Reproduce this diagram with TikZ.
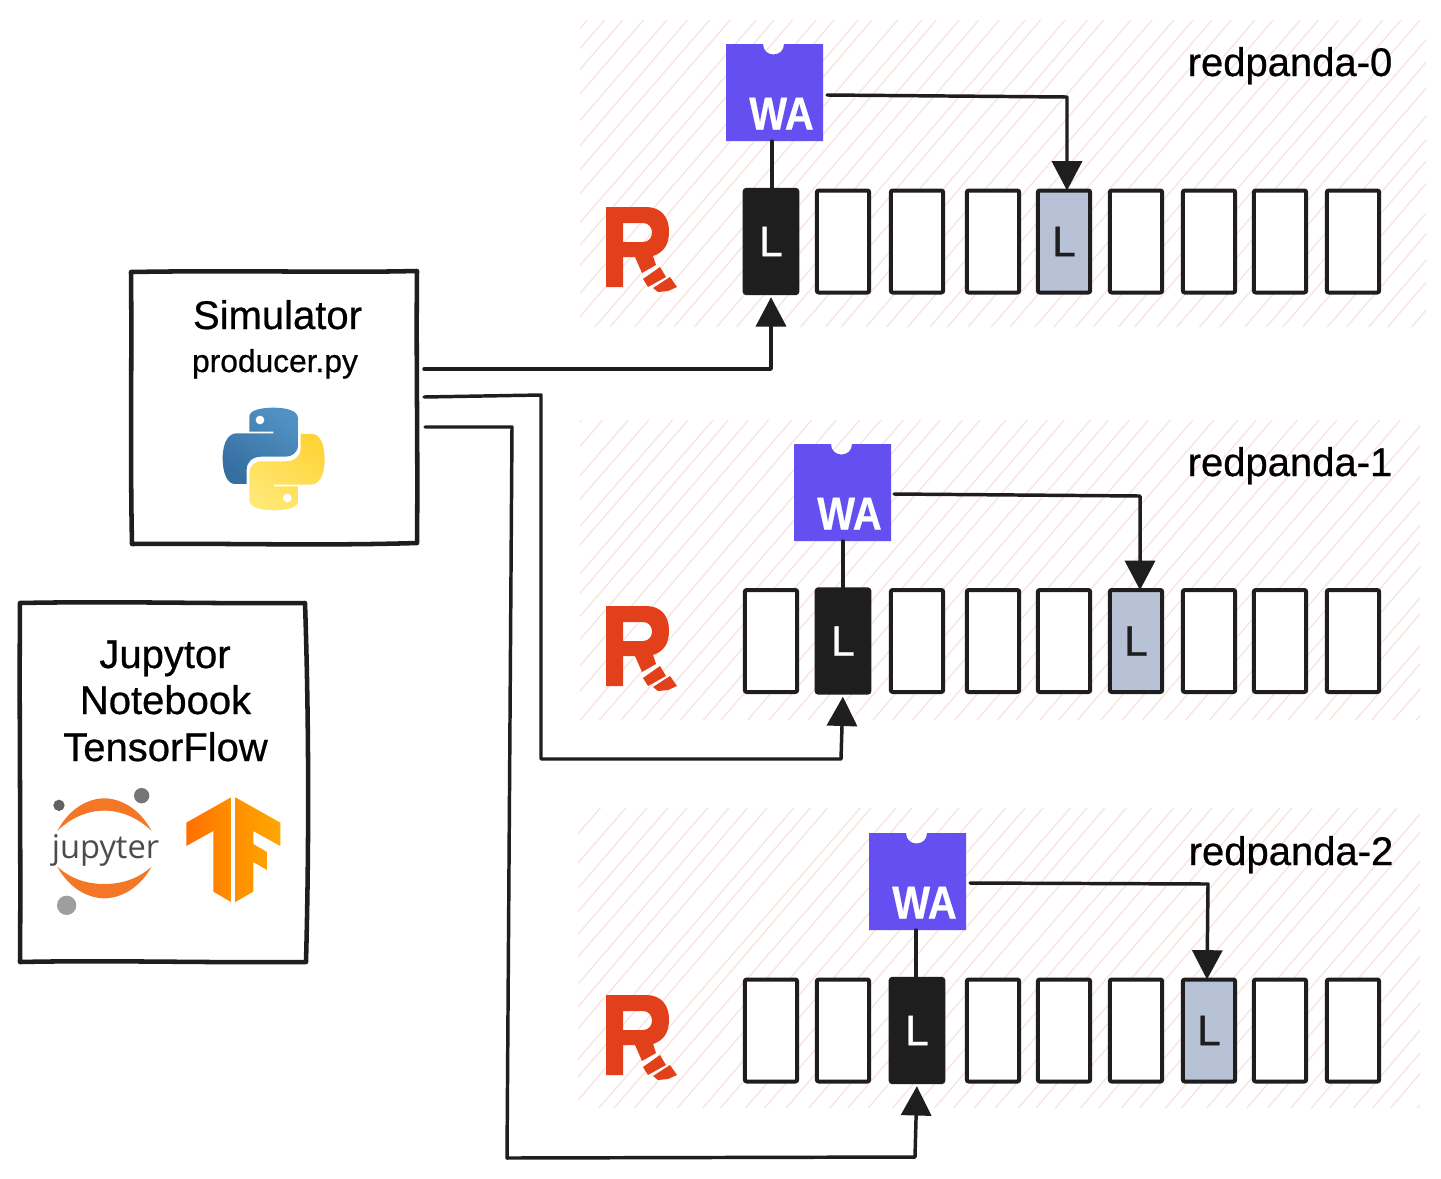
\documentclass[tikz,border=0pt]{standalone}
\usepackage{fontspec}
\setmainfont{Liberation Sans}
\newfontfamily\heavy[FakeBold=0.6]{Liberation Sans}
\newfontfamily\wafont[FakeBold=0.6]{Liberation Sans Bold}
\newfontfamily\jupfont{Open Sans}
\usetikzlibrary{arrows.meta,calc}
\definecolor{ink}{HTML}{1E1E1E}
\definecolor{hatch}{HTML}{F9E4DF}
\definecolor{wasm}{HTML}{654FF0}
\definecolor{pandared}{HTML}{E2401B}
\definecolor{replicafill}{HTML}{B7C2D6}
\definecolor{juporange}{HTML}{F37726}
\tikzset{
  x=.75pt,y=-.75pt,
  conn/.style={draw=ink,line width=2.6pt,line cap=round,line join=round},
  arrowconn/.style={conn,-{Triangle[length=22pt,width=22.5pt]},shorten >=3pt},
  framebox/.style={draw=ink,line width=3.4pt,fill=white,line join=round},
  cellbase/.style={draw=ink,line width=3pt,rounded corners=1.5pt,minimum width=39.3pt,minimum height=76.5pt,inner sep=0pt,outer sep=0pt,font=\heavy\fontsize{32}{32}\selectfont},
  cell/.style={cellbase,fill=white},
  leader/.style={cellbase,fill=ink,text=white,minimum width=39.6pt,minimum height=77.5pt},
  replica/.style={cellbase,fill=replicafill,text=ink},
  big/.style={font=\heavy\fontsize{30}{30}\selectfont,anchor=base,inner sep=0pt,text=black},
  watext/.style={font=\wafont\fontsize{34.5}{34.5}\selectfont,text=white,anchor=base,inner sep=0pt,xscale=.87},
  waslot/.style={minimum width=72.75pt,minimum height=72.75pt,inner sep=0pt,outer sep=0pt},
}
\newcommand{\hatchpanel}[4]{%
  \begin{scope}
    \clip (#1,#2) rectangle (#3,#4);
    \pgfmathsetmacro{\hdx}{(#4-#2)/1.16}
    \foreach \i in {0,...,84}{
      \pgfmathsetmacro{\xa}{#1-\hdx+\i*21+rnd*7}
      \pgfmathsetmacro{\xb}{\xa+\hdx+rnd*6-3}
      \draw[hatch,line width=1pt] (\xa,#4) -- (\xb,#2);
    }
  \end{scope}}
\newcommand{\pandalogo}[1]{%
  \begin{scope}[shift={(0,#1)}]
    \fill[pandared,even odd rule]
      (606,207) -- (646,207) .. controls (661,207) and (669,217) .. (669,231)
      .. controls (669,245) and (664,252) .. (653,256) -- (656,265) -- (642,273) -- (635,257) -- (623,257) -- (623,287) -- (606,287) -- cycle
      (623,223) -- (623,242) -- (643,242) .. controls (655,242) and (655,223) .. (643,223) -- cycle;
    \fill[pandared] (643,279) -- (660,267) -- (666,277) -- (648,287) -- cycle;
    \fill[pandared] (653,288) -- (670,277) -- (677,287) -- (668,291) -- (658,292) -- cycle;
  \end{scope}}
\newcommand{\waslab}[3]{% name, left x, top y
  \fill[wasm] (#2,#3) -- ($(#2,#3)+(37,0)$) .. controls ($(#2,#3)+(37,14)$) and ($(#2,#3)+(58,14)$) .. ($(#2,#3)+(58,0)$)
     -- ($(#2,#3)+(97,0)$) -- ($(#2,#3)+(97,97)$) -- ($(#2,#3)+(0,97)$) -- cycle;
  \node[waslot] (#1wa) at ($(#2,#3)+(48.5,48.5)$) {};
  \node[watext] (#1walab) at ($(#2,#3)+(55.5,85.5)$) {WA};}
\newcommand{\cellrow}[4]{% prefix, y, leader index, replica index
  \foreach \i/\x in {1/771,2/843,3/917,4/993,5/1064,6/1136,7/1209,8/1280,9/1353}{
    \def\lab{}
    \ifnum\i=#3 \def\st{leader}\def\lab{L}\else\ifnum\i=#4 \def\st{replica}\def\lab{L}\else\def\st{cell}\fi\fi
    \node[style=\st] (#1c\i) at (\x,#2) {\lab};
  }}
\begin{document}
\begin{tikzpicture}
\useasboundingbox (0,0) rectangle (1441,1178);
\fill[white] (0,0) rectangle (1441,1178);
\pgfmathsetseed{11}
\hatchpanel{580}{20}{1426}{327}
\hatchpanel{580}{420}{1420}{720}
\hatchpanel{578}{808}{1420}{1108}
\pandalogo{0}
\pandalogo{399}
\pandalogo{788}
% panels
\waslab{p}{726}{44}
\waslab{q}{794}{444}
\waslab{r}{869}{833}
\cellrow{p}{241.5}{1}{5}
\cellrow{q}{641}{2}{6}
\cellrow{r}{1030.5}{3}{7}
\node[big] (t0) at (1290,76) {redpanda-0};
\node[big] (t1) at (1290,476) {redpanda-1};
\node[big] (t2) at (1291,865) {redpanda-2};
% WA connectors
\draw[conn] (pc1.north) ++(1,0) -- (772,141);
\draw[conn] (qc2.north) -- (qc2.north |- qwa.south);
\draw[conn] (rc3.north) ++(-1,0) -- (916,930);
\coordinate (pw) at (827,95);
\coordinate (qw) at (894,494);
\coordinate (rw) at (970,883);
\draw[arrowconn,shorten >=0pt] (pw) -- (1067,97) -- (pc5.north -| 1067,0);
\draw[arrowconn,shorten >=0pt] (qw) -- (1140,496) -- (qc6.north -| 1140,0);
\draw[arrowconn,shorten >=0pt] (rw) -- (1208,884) -- (rc7.north -| 1207,0);
% simulator
\draw[framebox] (131,272) .. controls (250,270) and (330,273) .. (417,271) .. controls (416,360) and (418,450) .. (417,543) .. controls (320,546) and (220,543) .. (132,544) .. controls (130,450) and (132,360) .. (131,272) -- cycle;
\node[big] (simt) at (277.5,329) {Simulator};
\node[big,font=\heavy\fontsize{23.8}{24}\selectfont] (simf) at (275,372) {producer.py};
\begin{scope}[shift={(120,260)},scale=.3333]
  \def\snake{(388,515) -- (388,470) .. controls (388,450) and (425,443) .. (460,443)
     .. controls (500,443) and (534,452) .. (534,475) -- (534,555) .. controls (534,578) and (515,590) .. (498,590)
     -- (425,590) .. controls (398,590) and (380,605) .. (380,630) -- (380,672) -- (345,672)
     .. controls (322,672) and (308,640) .. (308,595) .. controls (308,548) and (325,520) .. (350,520) -- (460,520) -- (460,515) -- cycle}
  \path[shading=axis,left color={rgb,255:red,80;green,145;blue,195},right color={rgb,255:red,54;green,110;blue,160},shading angle=-35] \snake;
  \fill[white] (420,480) circle (13);
  \begin{scope}[rotate around={180:(461,597)}]
    \path[shading=axis,left color={rgb,255:red,255;green,212;blue,59},right color={rgb,255:red,255;green,232;blue,115},shading angle=-35] \snake;
    \fill[white] (420,480) circle (13);
  \end{scope}
\end{scope}
% notebook box
\draw[framebox] (20,603) .. controls (120,601) and (220,604) .. (305,603) .. controls (309,720) and (309,850) .. (306,962) .. controls (210,963) and (110,960) .. (20,962) .. controls (21,850) and (19,720) .. (20,603) -- cycle;
\node[big] (jn1) at (165,668) {Jupytor};
\node[big] (jn2) at (165.5,714) {Notebook};
\node[big] (jn3) at (165.5,761) {TensorFlow};
\begin{scope}[shift={(10,770)},scale=.3333]
  \fill[juporange] (142,183) .. controls (180,110) and (240,85) .. (283,85) .. controls (326,85) and (386,110) .. (425,183)
     .. controls (380,140) and (330,122) .. (283,122) .. controls (236,122) and (186,140) .. (142,183) -- cycle;
  \fill[juporange] (142,290) .. controls (180,360) and (240,385) .. (283,385) .. controls (326,385) and (386,360) .. (425,290)
     .. controls (380,330) and (330,342) .. (283,342) .. controls (236,342) and (186,330) .. (142,290) -- cycle;
  \fill[black!62] (147,106) circle (17);
  \fill[black!54] (395,77) circle (23);
  \fill[black!38] (170,406) circle (29);
\end{scope}
\node[anchor=base,inner sep=0pt,text=black!70,font=\jupfont\fontsize{24.5}{25}\selectfont] (jup) at (105.5,858) {jupyter};
\begin{scope}[shift={(10,770)},scale=.3333]
  \path[shading=axis,left color={rgb,255:red,255;green,111;blue,0},right color={rgb,255:red,255;green,143;blue,0}]
    (663,82) -- (663,396) -- (610,365) -- (610,183) -- (529,228) -- (529,158) -- cycle;
  \path[shading=axis,left color={rgb,255:red,255;green,143;blue,0},right color={rgb,255:red,255;green,168;blue,0}]
    (676,82) -- (811,158) -- (811,228) -- (730,183) -- (730,222) -- (771,246) -- (771,300) -- (730,276) -- (730,365) -- (676,396) -- cycle;
\end{scope}
% producer connectors
\coordinate (s0) at (424,369);
\coordinate (s1) at (424,397);
\coordinate (s2) at (425,427);
\draw[arrowconn] (s0) -- (771,369) -- (pc1.south);
\draw[arrowconn] (s1) -- (541,395) -- (541,759) -- (841,759) -- (qc2.south);
\draw[arrowconn] (s2) -- (512,427) -- (507,1158) -- (915,1157) -- (rc3.south);
\end{tikzpicture}
\end{document}
